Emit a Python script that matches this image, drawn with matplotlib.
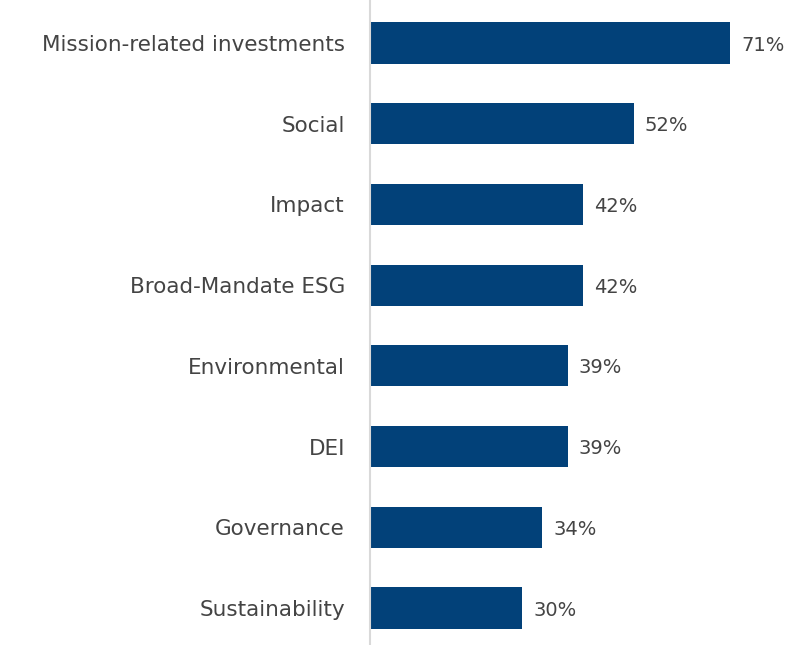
import matplotlib
matplotlib.use("Agg")
import matplotlib.pyplot as plt

categories = [
    "Mission-related investments",
    "Social",
    "Impact",
    "Broad-Mandate ESG",
    "Environmental",
    "DEI",
    "Governance",
    "Sustainability",
]
values = [71, 52, 42, 42, 39, 39, 34, 30]

bar_color = "#024179"
text_color = "#444444"

fig = plt.figure(figsize=(7.88, 6.45), dpi=100)
ax = fig.add_axes([370 / 788, 0, 418 / 788, 1])

ypos = list(range(len(categories)))
ax.barh(ypos, values, height=0.51, color=bar_color)

ax.set_xlim(0, 71 * 418 / 360)
ax.set_ylim(7.458, -0.533)

ax.set_yticks(ypos)
ax.set_yticklabels(categories, fontsize=15.5, color=text_color)
ax.tick_params(axis="y", length=0, pad=18)
ax.set_xticks([])

for side in ("top", "right", "bottom"):
    ax.spines[side].set_visible(False)
ax.spines["left"].set_color("#d9d9d9")
ax.spines["left"].set_linewidth(1.5)

for y, v in zip(ypos, values):
    ax.annotate(f"{v}%", xy=(v, y), xytext=(8, -1.5), textcoords="offset points",
                va="center", ha="left", fontsize=14, color=text_color)

fig.savefig("out.png", dpi=100)
